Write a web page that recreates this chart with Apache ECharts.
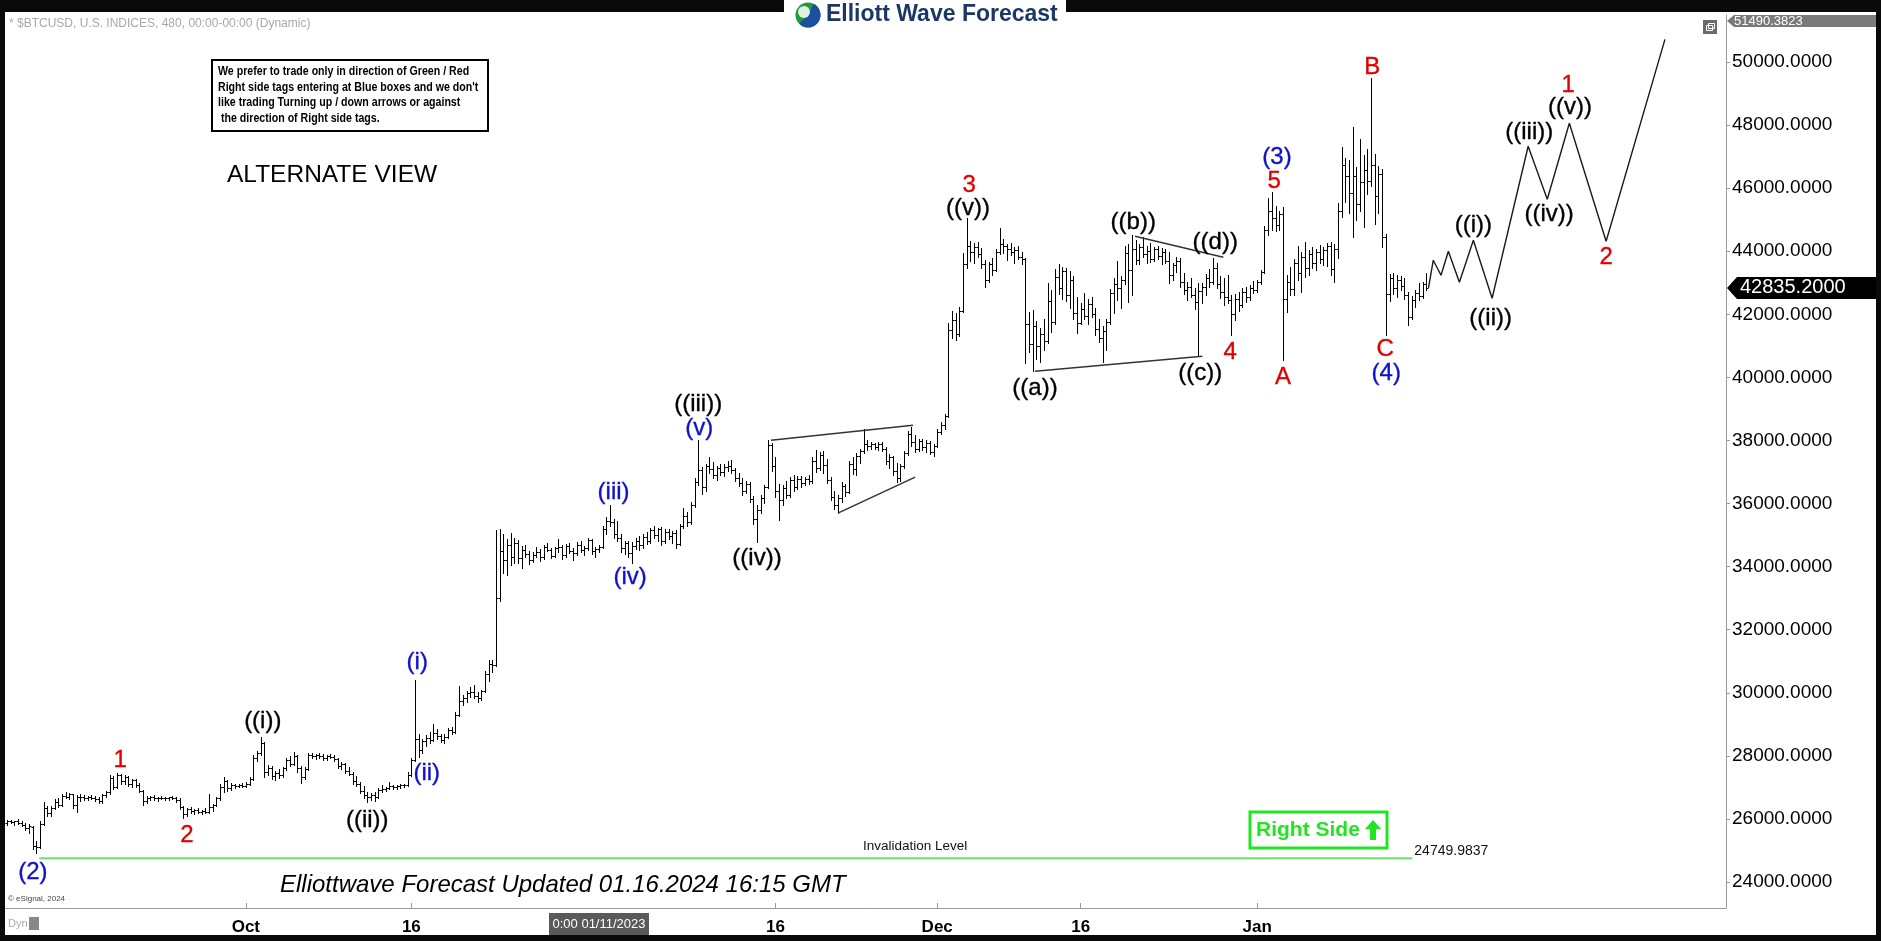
<!DOCTYPE html>
<html><head><meta charset="utf-8">
<script src="https://cdn.jsdelivr.net/npm/echarts@6/dist/echarts.min.js"></script>
<style>html,body{margin:0;padding:0;background:#000;}#c{width:1881px;height:941px;}</style>
</head><body><div id="c"></div>
<script>
// ---- DATA (8-hour OHLC bars, values in hundreds of USD: [open, high, low, close]) ----
const barsSep = [
[258.8,259.6,258.2,259.2],[259.2,259.8,258.6,258.9],[258.9,259.5,258.0,259.3],[259.3,259.9,258.4,258.7],[258.7,259.4,257.8,258.2],
[258.2,258.8,256.4,257.0],[257.0,258.3,255.6,257.8],[257.5,257.8,250.5,251.5],[251.5,253.0,249.2,251.0],[251.2,259.5,250.8,258.5],
[258.5,265.4,258.0,263.5],[263.5,264.2,260.8,261.8],[261.8,264.0,261.0,263.6],[263.6,266.2,263.0,265.5],[265.5,266.5,263.8,264.5],
[264.5,268.0,264.0,267.4],[267.4,268.6,266.5,267.0],[267.0,268.2,266.2,267.8],[267.8,268.0,263.5,264.5],[264.5,267.5,262.2,267.0],
[267.0,267.8,265.8,266.8],[266.8,267.5,266.0,266.6],[266.6,267.2,265.9,266.9],[266.9,267.6,266.2,266.7],[266.7,267.3,265.8,266.4],
[266.4,266.9,264.9,265.8],[265.8,268.0,265.2,267.6],[267.6,269.0,266.8,268.5],[268.5,273.8,268.0,273.0],[273.0,273.6,269.5,270.2],
[270.2,274.5,269.8,273.8],[273.8,274.3,271.2,272.0],[272.0,273.8,271.0,273.2],[273.2,273.5,270.5,271.0],[271.0,272.8,270.2,272.2],
[272.2,272.6,270.0,270.8],[270.8,271.5,268.5,269.0],[269.0,269.3,264.4,265.8],[265.8,267.2,265.2,266.6],[266.6,267.4,266.0,266.8],
[266.8,267.5,266.1,266.5],[266.5,267.0,265.8,266.7],[266.7,267.3,266.2,266.6],[266.6,266.9,266.0,266.5],[266.5,267.1,266.0,266.8],
[266.8,267.4,266.2,266.7],[266.7,267.0,265.5,266.0],[266.0,266.5,263.0,263.8],[263.8,264.2,260.3,261.5],[261.5,263.6,260.8,263.0],
[263.0,263.8,261.8,262.4],[262.4,263.2,261.6,262.9],[262.9,263.5,262.0,262.3],[262.3,262.9,261.5,262.6],[262.6,263.4,261.9,262.2],
[262.2,268.0,262.0,263.8],[263.8,264.8,262.5,264.3],[264.3,266.8,264.0,266.5],[266.5,271.0,266.0,270.2],[270.2,273.2,268.5,272.0],
[272.0,272.5,268.8,269.8],[269.8,271.5,269.2,270.6],[270.6,271.2,269.8,270.4],[270.4,271.0,270.0,270.8],[270.8,271.4,270.1,270.5]
];
const barsOct = [
[270.5,271.6,270.2,271.2],[271.2,273.2,270.6,272.6],[272.6,280.2,272.2,279.4],[279.4,281.6,278.5,280.8],[280.8,286.0,280.2,284.0],
[284.0,284.5,273.2,275.0],[275.0,277.0,273.8,276.2],[276.2,276.8,272.6,273.5],[273.5,275.2,272.2,274.6],[274.6,275.8,273.0,273.8],
[273.8,276.6,273.4,276.0],[276.0,279.4,275.5,278.6],[278.6,279.8,276.8,277.4],[277.4,281.2,277.0,279.8],[279.8,280.4,275.0,276.0],
[276.0,276.8,271.5,273.2],[273.2,276.5,272.6,275.8],[275.8,281.0,275.4,280.2],[280.2,280.8,279.2,279.8],[279.8,280.6,279.0,280.2],
[280.2,280.9,279.4,279.9],[279.9,280.5,278.8,279.2],[279.2,280.3,278.6,280.0],[280.0,280.7,279.3,279.6],[279.6,280.2,278.5,278.9],
[278.9,279.3,276.2,276.8],[276.8,278.0,275.8,277.4],[277.4,277.8,274.5,275.2],[275.2,276.4,273.8,274.4],[274.4,274.9,271.2,272.0],
[272.0,273.5,270.5,271.2],[271.2,271.8,268.2,269.0],[269.0,270.4,266.5,267.5],[267.5,268.6,265.4,266.8],[266.8,268.2,266.0,267.6],
[267.6,268.4,265.8,267.0],[267.0,269.8,266.6,269.2],[269.2,270.6,268.4,269.5],[269.5,270.2,268.8,269.8],[269.8,271.8,269.4,270.4],
[270.4,270.9,269.6,270.1],[270.1,270.6,269.5,270.3],[270.3,271.0,269.8,270.6],[270.6,271.2,270.0,270.8],[270.8,274.8,270.5,274.0],
[274.0,279.4,273.6,278.8],[278.8,304.0,278.5,285.5],[285.5,286.8,279.6,281.8],[281.8,285.2,281.0,284.6],[284.6,286.6,283.2,285.8],
[285.8,287.5,284.0,285.0],[285.0,290.0,284.6,287.2],[287.2,288.6,285.5,286.2],[286.2,287.0,284.4,285.0],[285.0,286.8,284.2,286.0],
[286.0,288.8,285.6,288.2],[288.2,289.2,286.8,287.5],[287.5,293.8,287.2,293.0],[293.0,302.0,292.5,297.5],[297.5,299.2,296.0,298.4],
[298.4,300.6,297.2,299.8],[299.8,301.8,298.8,300.4],[300.4,302.6,298.4,299.0],[299.0,300.2,297.0,298.2],[298.2,301.0,297.6,300.6],
[300.6,306.8,300.2,306.0],[306.0,310.5,303.6,309.2],[309.2,310.4,306.5,308.8]
];
const barsNov = [
[308.8,351.6,308.5,330.0],[330.0,352.0,329.0,345.0],[345.0,350.4,338.0,342.0],[342.0,348.6,337.2,346.8],[346.8,350.6,340.5,343.2],
[343.2,349.0,341.2,347.5],[347.5,348.4,341.0,342.6],[342.6,346.4,339.6,345.2],[345.2,346.8,343.2,344.0],[344.0,345.0,340.8,342.0],
[342.0,344.6,341.4,343.8],[343.8,346.2,343.0,344.5],[344.5,345.6,341.8,343.0],[343.0,346.8,342.5,346.2],[346.2,347.4,344.8,345.4],
[345.4,346.0,342.6,343.5],[343.5,346.2,343.0,345.8],[345.8,348.6,344.6,346.2],[346.2,346.9,342.4,343.6],[343.6,347.2,343.2,346.5],
[346.5,347.6,344.2,345.0],[345.0,345.8,342.0,344.4],[344.4,347.8,343.8,347.0],[347.0,348.0,344.6,345.2],[345.2,346.6,343.6,346.0],
[346.0,349.2,345.4,348.4],[348.4,348.8,344.0,345.0],[345.0,346.2,343.0,345.6],[345.6,347.0,344.6,346.2],[346.2,352.8,345.8,352.0],
[352.0,355.6,350.5,354.6],[354.6,359.5,353.0,354.0],[354.0,355.2,349.0,350.2],[350.2,354.6,348.0,349.2],[349.2,350.4,344.6,346.0],
[346.0,348.2,344.0,347.5],[347.5,348.0,343.0,344.2],[344.2,347.8,341.0,346.4],[346.4,349.2,345.6,348.0],[348.0,349.6,345.2,346.8],
[346.8,350.2,346.0,349.5],[349.5,351.0,347.2,348.0],[348.0,352.2,347.6,351.5],[351.5,353.0,349.2,350.0],[350.0,352.4,348.0,351.8],
[351.8,352.6,346.8,348.2],[348.2,351.8,347.6,351.0],[351.0,352.0,348.8,349.6],[349.6,351.2,347.5,350.8],[350.8,351.6,346.0,347.2],
[347.2,353.5,347.0,352.8],[352.8,358.6,352.2,356.0],[356.0,357.4,353.0,354.0],[354.0,360.5,353.6,359.6],[359.6,368.0,359.0,366.8],
[366.8,380.1,366.0,370.5],[370.5,371.5,363.0,365.2],[365.2,372.6,364.0,371.8],[371.8,374.7,369.6,371.0],[371.0,373.2,368.2,369.0],
[369.0,371.8,367.4,371.2],[371.2,372.6,369.2,370.0],[370.0,372.4,368.6,371.6],[371.6,373.6,370.4,372.0],[372.0,373.8,369.8,370.6],
[370.6,371.2,367.2,368.2],[368.2,369.6,365.6,366.4],[366.4,368.2,362.8,364.0],[364.0,367.0,363.4,366.2],[366.2,366.8,360.6,361.5],
[361.5,362.4,353.6,355.0],[355.0,359.4,347.8,357.8],[357.8,362.6,357.0,361.8],[361.8,366.0,360.2,365.2],[365.2,380.1,364.8,378.6],
[378.6,379.2,370.4,372.0]
];
const barsDec = [
[372.0,374.7,362.0,364.0],[364.0,366.2,354.7,361.2],[361.2,366.0,359.6,364.8],[364.8,367.2,361.6,362.8],[362.8,368.4,362.0,367.6],
[367.6,369.0,364.0,365.2],[365.2,368.8,364.6,367.8],[367.8,368.6,365.4,366.6],[366.6,368.4,365.8,367.9],[367.9,369.2,366.2,367.0],
[367.0,374.8,366.6,373.6],[373.6,376.9,370.0,371.4],[371.4,376.2,370.6,375.4],[375.4,376.6,369.8,372.2],[372.2,374.0,366.4,367.6],
[367.6,368.4,361.0,362.2],[362.2,364.0,358.2,359.4],[359.4,362.6,357.0,361.8],[361.8,366.8,360.6,365.6],[365.6,366.2,362.4,363.8],
[363.8,373.5,363.2,372.4],[372.4,374.6,369.4,370.8],[370.8,376.0,369.2,375.0],[375.0,377.4,372.8,376.6],[376.6,383.6,376.0,379.0],
[379.0,380.2,377.0,378.4],[378.4,379.6,377.2,378.8],[378.8,379.2,377.4,377.8],[377.8,379.5,377.0,378.9],[378.9,379.4,376.6,377.2],
[377.2,377.8,372.4,373.6],[373.6,375.8,371.2,374.8],[374.8,375.2,369.2,370.4],[370.4,372.8,366.8,368.0],[368.0,372.6,367.2,371.8],
[371.8,376.8,371.2,376.0],[376.0,383.0,375.4,382.0],[382.0,384.2,378.4,379.6],[379.6,381.8,376.2,377.2],[377.2,380.6,376.6,379.8],
[379.8,380.4,377.0,377.8],[377.8,380.2,376.4,379.2],[379.2,379.8,375.6,376.4],[376.4,378.8,375.0,378.2],[378.2,383.6,377.8,382.8],
[382.8,385.8,382.0,385.0],[385.0,388.5,383.6,387.8],[387.8,417.2,387.4,415.0],[415.0,421.0,412.4,418.2],[418.2,420.4,411.8,413.6],
[413.6,422.3,413.0,421.2],[421.2,439.4,420.6,436.0],[436.0,450.5,434.6,441.8],[441.8,443.2,436.8,439.6],[439.6,442.6,436.2,441.4],
[441.4,442.8,438.2,439.0],[439.0,441.0,434.6,436.0],[436.0,437.2,428.6,431.0],[431.0,436.6,430.2,435.8],[435.8,437.8,432.6,434.2],
[434.2,440.6,433.6,439.8],[439.8,447.3,439.0,442.4],[442.4,443.8,439.4,441.6],[441.6,442.4,437.2,440.8],[440.8,442.6,438.8,439.6],
[439.6,441.2,436.4,440.4],[440.4,441.6,437.6,438.2],[438.2,439.8,436.0,437.6]
];
const barsLateDec = [
[437.6,438.0,404.5,417.0],[417.0,420.6,408.2,410.6],[410.6,421.3,402.0,416.2],[416.2,418.0,405.8,410.0],[410.0,415.6,405.0,413.8],
[413.8,418.4,408.6,411.4],[411.4,430.0,411.0,424.2],[424.2,427.6,414.4,417.6],[417.6,434.4,417.0,431.8],[431.8,436.0,426.4,428.2],
[428.2,435.0,425.0,433.6],[433.6,434.8,424.2,426.0],[426.0,433.8,422.0,431.0],[431.0,432.2,418.4,420.4],[420.4,425.6,414.0,417.4],
[417.4,423.6,416.8,421.8],[421.8,426.7,418.4,419.6],[419.6,424.8,417.0,423.2],[423.2,425.4,419.2,420.2],[420.2,422.0,413.4,415.2],
[415.2,418.6,411.2,412.6],[412.6,416.4,404.8,414.8],[414.8,418.6,408.8,417.6],[417.6,428.0,416.8,426.8],[426.8,431.6,420.4,429.6],
[429.6,437.0,424.6,428.4],[428.4,432.2,422.0,430.8],[430.8,441.8,429.6,439.4],[439.4,442.4,424.0,434.2],[434.2,445.0,426.0,440.6],
[440.6,443.6,435.8,437.2],[437.2,442.2,436.0,441.4],[441.4,444.4,438.2,439.0],[439.0,441.8,436.4,440.2],[440.2,442.6,436.6,437.6],
[437.6,441.4,436.8,440.8],[440.8,441.6,437.4,438.4],[438.4,441.0,435.8,439.8],[439.8,440.6,436.2,437.0],[437.0,439.6,430.0,432.4],
[432.4,436.4,430.8,435.6],[435.6,438.2,433.4,437.0],[437.0,437.8,428.8,430.2],[430.2,433.0,426.4,427.6],[427.6,430.2,424.6,428.8],
[428.8,431.4,425.4,426.2],[426.2,428.4,421.6,423.8],[423.8,430.0,407.0,427.4],[427.4,429.8,423.6,428.6],[428.6,432.8,426.0,431.6],
[431.6,434.4,428.6,430.2],[430.2,437.7,429.6,434.8],[434.8,436.2,428.2,429.6],[429.6,432.2,425.2,427.0],[427.0,431.4,422.8,425.4],
[425.4,432.6,423.6,424.6],[424.6,426.2,413.4,420.2],[420.2,426.4,418.2,424.8],[424.8,427.2,421.2,422.8],[422.8,428.4,422.2,427.0],
[427.0,428.6,424.0,425.4],[425.4,429.4,424.6,428.2],[428.2,430.6,426.6,427.8],[427.8,431.0,427.0,430.4],[430.4,434.2,429.6,433.4],
[433.4,448.0,433.0,446.6],[446.6,457.0,445.2,452.8],[452.8,458.7,446.8,450.6],[450.6,454.2,446.4,448.2],[448.2,452.6,446.6,451.8]
];
const barsJan = [
[451.8,454.0,405.5,425.0],[425.0,432.6,420.6,430.4],[430.4,434.9,426.0,428.0],[428.0,437.6,426.2,436.4],[436.4,441.6,430.8,433.0],
[433.0,439.6,427.2,438.2],[438.2,443.0,431.8,434.6],[434.6,440.4,432.4,439.0],[439.0,441.4,434.8,436.2],[436.2,440.8,434.2,439.6],
[439.6,442.0,436.4,437.6],[437.6,441.2,435.6,440.4],[440.4,442.6,435.4,441.8],[441.8,442.8,432.6,434.4],[434.4,442.4,430.4,440.8],
[440.8,455.4,437.8,452.6],[452.6,473.0,450.8,467.4],[467.4,469.6,455.6,464.0],[464.0,468.8,452.0,458.4],[458.4,479.3,444.4,463.8],
[463.8,466.8,449.8,455.0],[455.0,475.6,452.6,461.8],[461.8,470.4,447.6,465.8],[465.8,472.4,458.2,462.4],[462.4,494.8,460.8,467.2],
[467.2,470.8,448.6,457.4],[457.4,467.0,452.0,464.6],[464.6,466.0,441.4,444.6],[444.6,445.4,413.4,426.4],[426.4,432.8,424.2,431.4],
[431.4,433.0,426.4,428.2],[428.2,432.6,425.4,430.8],[430.8,432.2,427.8,429.0],[429.0,431.6,424.8,426.0],[426.0,427.0,416.5,419.2],
[419.2,425.8,418.6,424.4],[424.4,427.6,422.2,426.8],[426.8,429.8,424.6,425.8],[425.8,430.2,425.2,429.6],[429.6,433.0,427.8,428.352]
];
const bars = [].concat(barsSep, barsOct, barsNov, barsDec, barsLateDec, barsJan);

// x axis (bar index) tick labels
const xTickIndex = [65, 110, 209, 253, 292, 340];
const xTickLabels = ['Oct', '16', '16', 'Dec', '16', 'Jan'];
// y axis
const yTicks = [24000,26000,28000,30000,32000,34000,36000,38000,40000,42000,44000,46000,48000,50000];
const yMin = 23175.6, yMax = 51490.3823;
const invalidationLevel = 24749.9837;
// projected path [barIndex, price]
const projection = [[386.6,42835],[387.9,43715],[390,43240],[392,44000],[395,43017],[398.8,44349],[403.9,42510],
  [413.7,47328],[418.9,45648],[424.9,48057],[434.9,44317],[450.9,50719]];
const tri1Upper = [[207.8,38010],[246.4,38485]];
const tri1Lower = [[226,35696],[247,36837]];
const tri2Upper = [[306.8,44475],[330.8,43810]];
const tri2Lower = [[279.6,40196],[325.1,40672]];
// wave labels [text, barIndex, price, colorKey]
const waveLabels = [
 ['(2)',7.1,24317,'b'],['1',30.8,27867,'r'],['2',49,25490,'r'],['((i))',69.6,29103,'k'],['((ii))',98,25965,'k'],
 ['(i)',111.6,30973,'b'],['(ii)',114.2,27455,'b'],['(iii)',165,36361,'b'],['(iv)',169.5,33667,'b'],
 ['((iii))',188,39150,'k'],['(v)',188.3,38390,'b'],['((iv))',204,34270,'k'],['3',261.7,46090,'r'],['((v))',261.4,45360,'k'],
 ['((a))',279.6,39658,'k'],['((b))',306.3,44920,'k'],['((c))',324.5,40133,'k'],['((d))',328.6,44285,'k'],['4',332.7,40800,'r'],
 ['(3)',345.4,46980,'b'],['5',344.6,46218,'r'],['A',347,40006,'r'],['B',371.3,49830,'r'],['C',374.8,40890,'r'],['(4)',375.1,40130,'b'],
 ['((i))',398.8,44820,'k'],['((ii))',403.5,41880,'k'],['((iii))',414,47772,'k'],['((iv))',419.4,45173,'k'],
 ['1',424.6,49262,'r'],['((v))',425.1,48564,'k'],['2',434.9,43810,'r']
];

// ---- CHART ----
const COLORS = {k:'#000000', r:'#e00000', b:'#1010cc'};
const FONT = 'Arial, "Liberation Sans", sans-serif';
const ohlcData = bars.map((b, i) => [i, b[0]*100, b[1]*100, b[2]*100, b[3]*100]);
const lastClose = 42835.2;

const chart = echarts.init(document.getElementById('c'), null, {width:1881, height:941});

function lineSeries(data, color, width) {
  return {type:'line', data, showSymbol:false, symbol:'none', silent:true, z:4,
    lineStyle:{color, width}, itemStyle:{color}};
}

const option = {
  animation:false,
  backgroundColor:'#ffffff',
  textStyle:{fontFamily:FONT},
  grid:{left:5, right:155, top:15, bottom:33},
  xAxis:{type:'value', min:-0.5, max:467.5,
    axisLine:{show:true, onZero:false, lineStyle:{color:'#9a9a9a', width:1}},
    splitLine:{show:false},
    axisTick:{show:true, customValues:xTickIndex, inside:true, length:5, lineStyle:{color:'#9a9a9a'}},
    axisLabel:{customValues:xTickIndex, formatter:(v)=>xTickLabels[xTickIndex.indexOf(v)] || '',
      fontSize:17, fontWeight:'bold', color:'#000', margin:11, fontFamily:FONT}},
  yAxis:{type:'value', position:'right', min:yMin, max:yMax,
    axisLine:{show:true, onZero:false, lineStyle:{color:'#9a9a9a', width:1}},
    splitLine:{show:false},
    axisTick:{show:true, customValues:yTicks, length:4, lineStyle:{color:'#9a9a9a'}},
    axisLabel:{customValues:yTicks, formatter:(v)=>v.toFixed(4), fontSize:19, color:'#000', margin:6, fontFamily:FONT}},
  series:[
    {type:'custom', name:'ohlc', data:ohlcData, encode:{x:0, y:[1,2,3,4]}, clip:true, silent:true, z:3,
      renderItem:function(params, api){
        const i = api.value(0);
        const po = api.coord([i, api.value(1)]);
        const ph = api.coord([i, api.value(2)]);
        const pl = api.coord([i, api.value(3)]);
        const pc = api.coord([i, api.value(4)]);
        const x = Math.round(po[0]) + 0.5;
        const yo = Math.round(po[1]) + 0.5, yc = Math.round(pc[1]) + 0.5;
        const st = {stroke:'#000', lineWidth:1};
        return {type:'group', children:[
          {type:'line', shape:{x1:x, y1:Math.round(ph[1]), x2:x, y2:Math.round(pl[1])+1}, style:st},
          {type:'line', shape:{x1:x-2, y1:yo, x2:x, y2:yo}, style:st},
          {type:'line', shape:{x1:x, y1:yc, x2:x+2, y2:yc}, style:st}
        ]};
      }},
    lineSeries([[8.8, invalidationLevel],[382.2, invalidationLevel]], '#6ce46c', 2),
    lineSeries(tri1Upper, '#333', 1.5),
    lineSeries(tri1Lower, '#333', 1.5),
    lineSeries(tri2Upper, '#333', 1.5),
    lineSeries(tri2Lower, '#333', 1.5),
    lineSeries(projection, '#1a1a1a', 1.4),
    {type:'scatter', silent:true, z:6, symbolSize:0, itemStyle:{color:'#fff', opacity:1},
      data: waveLabels.map(w => ({value:[w[1], w[2]],
        label:{show:true, position:'inside', formatter:w[0], color:COLORS[w[3]], fontSize:24, fontFamily:FONT,
          textBorderColor:COLORS[w[3]], textBorderWidth:0.35, opacity:1}}))},
    {type:'scatter', silent:true, z:6, symbolSize:0, itemStyle:{color:'#fff', opacity:1},
      data:[
        {value:[247, invalidationLevel], label:{show:true, position:'inside', offset:[0,-12], formatter:'Invalidation Level', color:'#111', fontSize:13.5, fontFamily:FONT}},
        {value:[382.2, invalidationLevel], label:{show:true, position:'right', distance:0, offset:[2,-7], formatter:invalidationLevel.toFixed(4), color:'#111', fontSize:14, fontFamily:FONT}}
      ]}
  ]
};
chart.setOption(option);

// ---- annotations / frame ----
const yLast = chart.convertToPixel({yAxisIndex:0}, lastClose);
const yTop = chart.convertToPixel({yAxisIndex:0}, yMax);
const axisX = chart.convertToPixel({xAxisIndex:0}, 467.5);

function txt(x, y, text, o) {
  return Object.assign({type:'text', x, y, silent:true, z:50,
    style:Object.assign({text, fill:'#000', font:'12px ' + FONT, textVerticalAlign:'middle'}, o || {})});
}
const notice = ['We prefer to trade only in direction of Green / Red',
  "Right side tags entering at Blue boxes and we don't",
  'like trading Turning up / down arrows or against',
  ' the direction of Right side tags.'];

const g = [];
// frame
g.push({type:'rect', shape:{x:0,y:0,width:1881,height:12}, style:{fill:'#0a0a0a'}, z:40, silent:true});
g.push({type:'rect', shape:{x:0,y:0,width:5,height:941}, style:{fill:'#0a0a0a'}, z:40, silent:true});
g.push({type:'rect', shape:{x:1876,y:0,width:5,height:941}, style:{fill:'#0a0a0a'}, z:40, silent:true});
g.push({type:'rect', shape:{x:0,y:935,width:1881,height:6}, style:{fill:'#0a0a0a'}, z:40, silent:true});
// logo tab
g.push({type:'rect', shape:{x:784,y:0,width:282,height:31,r:[0,0,9,9]}, style:{fill:'#fff'}, z:45, silent:true});
g.push({type:'circle', shape:{cx:808,cy:15,r:12.5}, style:{fill:'#1f9a3c'}, z:46, silent:true});
g.push({type:'sector', shape:{cx:808,cy:15,r:12.5,r0:0,startAngle:-Math.PI*0.35,endAngle:Math.PI*0.75}, style:{fill:'#1d4fa0'}, z:47, silent:true});
g.push({type:'circle', shape:{cx:804,cy:12,r:6}, style:{fill:'#fff', opacity:0.85}, z:48, silent:true});
g.push(txt(826, 15, 'Elliott Wave Forecast', {font:'bold 23px ' + FONT, fill:'#1b3767'}));
// header
g.push(txt(9, 24, '* $BTCUSD, U.S. INDICES, 480, 00:00-00:00 (Dynamic)', {font:'12px ' + FONT, fill:'#a8a8a8'}));
// notice box
g.push({type:'rect', shape:{x:212,y:60,width:276,height:71}, style:{fill:'#fff', stroke:'#000', lineWidth:2}, z:49, silent:true});
notice.forEach((t, k) => {
  g.push({type:'text', x:218, y:71.5 + k*15.8, scaleX:0.885, silent:true, z:50,
    style:{text:t, x:0, y:0, fill:'#000', font:'bold 12px ' + FONT, textVerticalAlign:'middle'}});
});
g.push(txt(227, 175, 'ALTERNATE VIEW', {font:'24.5px ' + FONT, fill:'#000'}));
// footer
g.push(txt(280, 885, 'Elliottwave Forecast Updated 01.16.2024 16:15 GMT', {font:'italic 24px ' + FONT, fill:'#000'}));
g.push(txt(8, 899, '\u00a9 eSignal, 2024', {font:'8px ' + FONT, fill:'#444'}));
g.push(txt(8, 924, 'Dyn', {font:'11px ' + FONT, fill:'#aaa'}));
g.push({type:'rect', shape:{x:29,y:917,width:10,height:13}, style:{fill:'#888'}, z:50, silent:true});
// crosshair date box
g.push({type:'rect', shape:{x:549,y:913,width:100,height:22}, style:{fill:'#5a5a5a'}, z:50, silent:true});
g.push(txt(599, 924, '0:00 01/11/2023', {font:'13px ' + FONT, fill:'#fff', textAlign:'center'}));
// Right Side box
g.push({type:'rect', shape:{x:1250,y:812,width:137,height:36}, style:{fill:'#fff', stroke:'#22e522', lineWidth:3}, z:50, silent:true});
g.push(txt(1256, 830, 'Right Side', {font:'bold 21px ' + FONT, fill:'#22e522'}));
g.push({type:'polygon', shape:{points:[[1373,820],[1381,829],[1376,829],[1376,840],[1370,840],[1370,829],[1365,829]]}, style:{fill:'#22e522'}, z:51, silent:true});
// restore icon
g.push({type:'rect', shape:{x:1703,y:20,width:14,height:14}, style:{fill:'#6a6a6a'}, z:50, silent:true});
g.push({type:'rect', shape:{x:1706.5,y:25.5,width:6,height:5}, style:{fill:'none', stroke:'#fff', lineWidth:1}, z:51, silent:true});
g.push({type:'rect', shape:{x:1708.5,y:23.5,width:6,height:5}, style:{fill:'none', stroke:'#fff', lineWidth:1}, z:51, silent:true});
// top tag (axis max)
const tY = yTop + 6;
g.push({type:'polygon', shape:{points:[[axisX+1,tY],[axisX+8,tY-6],[1876,tY-6],[1876,tY+6],[axisX+8,tY+6]]}, style:{fill:'#7a7a7a'}, z:50, silent:true});
g.push(txt(axisX+8, tY, yMax.toFixed(4), {font:'13px ' + FONT, fill:'#fff'}));
// last price tag
g.push({type:'polygon', shape:{points:[[axisX+1,yLast],[axisX+11,yLast-11],[1876,yLast-11],[1876,yLast+11],[axisX+11,yLast+11]]}, style:{fill:'#000'}, z:50, silent:true});
g.push(txt(axisX+14, yLast, lastClose.toFixed(4), {font:'20px ' + FONT, fill:'#fff'}));

chart.setOption({graphic:{elements:g}});
</script>
</body></html>
